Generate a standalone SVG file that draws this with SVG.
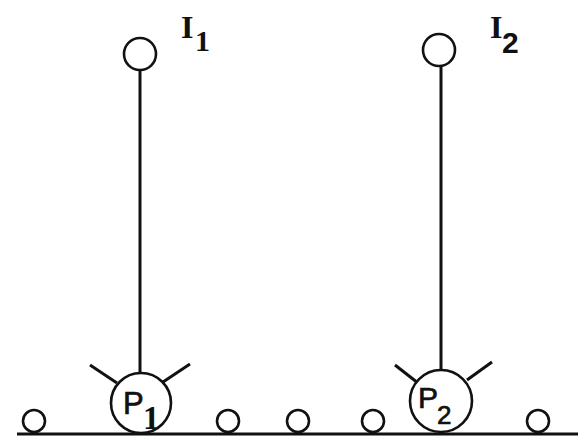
<svg xmlns="http://www.w3.org/2000/svg" width="578" height="440" viewBox="0 0 578 440">
<style>
.ln{stroke:#111;stroke-width:3;fill:none;stroke-linecap:butt}
.c{stroke:#111;stroke-width:2.6;fill:#fff}
.t{font-family:"Liberation Serif",serif;fill:#111;font-weight:bold}
.s{font-family:"Liberation Sans",sans-serif;fill:#111;font-weight:bold}
.p{font-family:"Liberation Sans",sans-serif;fill:#111;stroke:#111;stroke-width:0.7}
</style>
<rect width="578" height="440" fill="#fff"/>
<g id="connectors">
<line class="ln" x1="140" y1="70" x2="140" y2="373"/>
<line class="ln" x1="441" y1="66" x2="441" y2="370"/>
<line class="ln" x1="90" y1="365" x2="117" y2="383"/>
<line class="ln" x1="163" y1="382" x2="190" y2="364"/>
<line class="ln" x1="395" y1="365" x2="418" y2="383"/>
<line class="ln" x1="467" y1="380" x2="492" y2="362"/>
<line class="ln" x1="17" y1="434" x2="578" y2="434"/>
</g>
<g id="I1">
<circle class="c" cx="140" cy="54" r="16"/>
<text class="t" x="181" y="38" font-size="32">I</text>
<text class="t" x="195" y="51" font-size="30">1</text>
</g>
<g id="I2">
<circle class="c" cx="439" cy="50" r="16"/>
<text class="t" x="490" y="38" font-size="32">I</text>
<text class="s" x="502" y="53" font-size="30">2</text>
</g>
<g id="P1">
<circle class="c" cx="141" cy="403" r="30"/>
<text class="p" x="123" y="414" font-size="31">P</text>
<text class="t" x="143" y="429" font-size="33">1</text>
</g>
<g id="P2">
<circle class="c" cx="441" cy="401" r="31"/>
<text class="p" x="418" y="408" font-size="30">P</text>
<text class="p" x="437" y="424" font-size="26">2</text>
</g>
<g id="s1"><circle class="c" cx="34" cy="421" r="11"/></g>
<g id="s2"><circle class="c" cx="228" cy="421" r="11"/></g>
<g id="s3"><circle class="c" cx="298" cy="421" r="11"/></g>
<g id="s4"><circle class="c" cx="373" cy="421" r="11"/></g>
<g id="s5"><circle class="c" cx="538" cy="421" r="11"/></g>
</svg>
